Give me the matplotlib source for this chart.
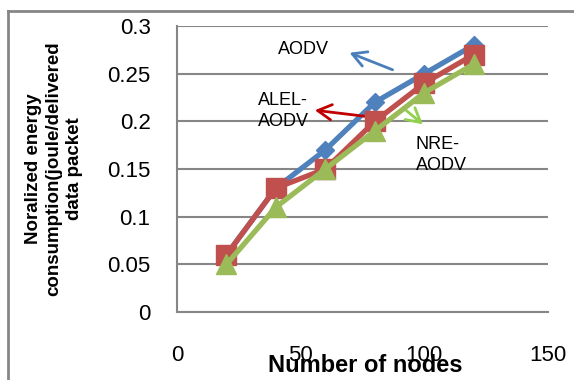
import matplotlib
matplotlib.use("Agg")
import matplotlib.pyplot as plt
from matplotlib.lines import Line2D

nodes = [20, 40, 60, 80, 100, 120]
aodv = [0.06, 0.13, 0.17, 0.22, 0.25, 0.28]
alel_aodv = [0.06, 0.13, 0.15, 0.20, 0.24, 0.27]
nre_aodv = [0.05, 0.11, 0.15, 0.19, 0.23, 0.26]
yticks = [0, 0.05, 0.1, 0.15, 0.2, 0.25, 0.3]
ytick_labels = ["0", "0.05", "0.1", "0.15", "0.2", "0.25", "0.3"]
xticks = [0, 50, 100, 150]
xtick_labels = ["0", "50", "100", "150"]

plt.rcParams['font.family'] = ['Liberation Sans', 'DejaVu Sans']
W, H = 574, 380
fig = plt.figure(figsize=(W/100, H/100), dpi=100)
ax = fig.add_axes([177/W, 1-312/H, (548-177)/W, (312-26)/H])

gray = '#868686'
ax.plot(nodes, aodv, color='#4F81BD', lw=3.8, marker='D', ms=9.5, zorder=3)
ax.plot(nodes, alel_aodv, color='#C0504D', lw=3.8, marker='s', ms=14, zorder=4)
ax.plot(nodes, nre_aodv, color='#9BBB59', lw=3.8, marker='^', ms=15, zorder=5)

ax.set_xlim(0, 150)
ax.set_ylim(0, 0.3)
ax.set_yticks(yticks)
ax.set_yticklabels(ytick_labels)
ax.set_xticks(xticks)
ax.set_xticklabels(xtick_labels)
ax.tick_params(axis='both', length=0, labelsize=16)
ax.tick_params(axis='y', pad=19)
ax.tick_params(axis='x', pad=24)
ax.grid(axis='y', color=gray, lw=1.5)
ax.set_axisbelow(True)
for s in ['top', 'right']:
    ax.spines[s].set_visible(False)
for s in ['left', 'bottom']:
    ax.spines[s].set_color(gray)
    ax.spines[s].set_linewidth(1.5)

# annotations
arrow_style = '->,head_length=1.0,head_width=0.55'
ax.text(40.8, 0.275, "AODV", fontsize=13, va='center', ha='left')
ax.annotate("", xy=(68.7, 0.273), xytext=(88.2, 0.253),
            arrowprops=dict(arrowstyle=arrow_style, color='#4A7EBB', lw=2))
ax.text(32.8, 0.211, "ALEL-\nAODV", fontsize=13, va='center', ha='left', linespacing=1.3)
ax.annotate("", xy=(54.6, 0.212), xytext=(80.1, 0.204),
            arrowprops=dict(arrowstyle=arrow_style, color='#C00000', lw=2))
ax.text(96.6, 0.165, "NRE-\nAODV", fontsize=13, va='center', ha='left', linespacing=1.3)
ax.annotate("", xy=(100.3, 0.195), xytext=(91.0, 0.215),
            arrowprops=dict(arrowstyle=arrow_style, color='#92D050', lw=2))

fig.text(365/W, 1-366/H, "Number of nodes", fontsize=17, fontweight='bold', ha='center', va='center')
fig.text(54/W, 1-169/H, "Noralized energy\nconsumption(joule/delivered\ndata packet",
         fontsize=13.5, fontweight='bold', rotation=90, ha='center', va='center',
         multialignment='center', linespacing=1.3)

# outer border
fig.add_artist(Line2D([8/W, 1], [1-11/H, 1-11/H], transform=fig.transFigure, color=gray, lw=2))
fig.add_artist(Line2D([8/W, 8/W], [0, 1-11/H], transform=fig.transFigure, color=gray, lw=2))

fig.savefig("out.png", dpi=100)
